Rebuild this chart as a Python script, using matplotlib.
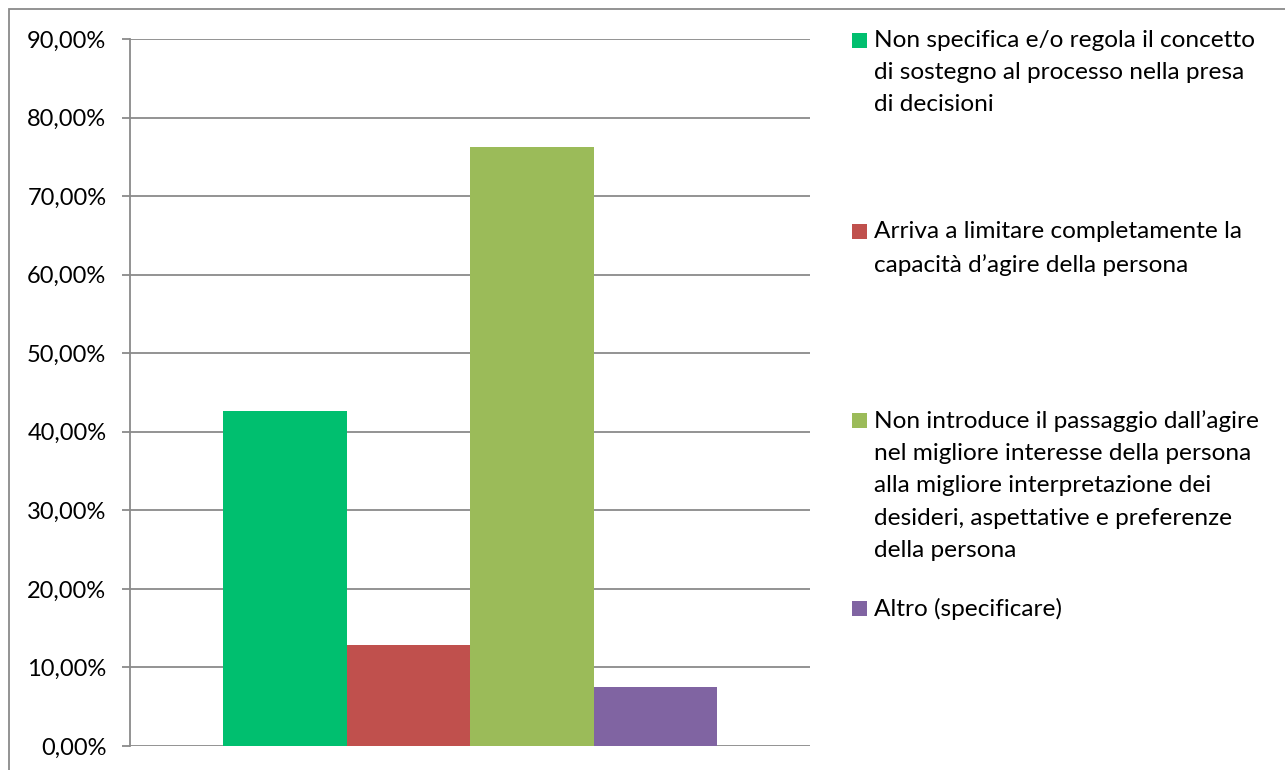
import matplotlib
matplotlib.use("Agg")
import matplotlib.pyplot as plt
from matplotlib.patches import Rectangle
from matplotlib.ticker import FuncFormatter

plt.rcParams['font.family'] = ['Lato', 'DejaVu Sans']

# data (percent)
categories = [
    "Non specifica e/o regola il concetto\ndi sostegno al processo nella presa\ndi decisioni",
    "Arriva a limitare completamente la\ncapacità d\u2019agire della persona",
    "Non introduce il passaggio dall\u2019agire\nnel migliore interesse della persona\nalla migliore interpretazione dei\ndesideri, aspettative e preferenze\ndella persona",
    "Altro (specificare)",
]
values = [42.65, 12.85, 76.25, 7.5]
colors = ["#00BF6F", "#C0504D", "#9BBB59", "#8064A2"]
yticks = [0, 10, 20, 30, 40, 50, 60, 70, 80, 90]

W, H = 1285, 770
fig = plt.figure(figsize=(W / 100, H / 100), dpi=100)
fig.patch.set_facecolor("white")

# outer chart border (cut off at right/bottom in the reference)
fig.patches.append(Rectangle((9 / W, -0.05), 1.1, (H - 9) / H + 0.05,
                             transform=fig.transFigure, fill=False,
                             edgecolor="#8a8a8a", linewidth=1.3))

ax = fig.add_axes([130 / W, (H - 746) / H, 680 / W, (746 - 39) / H])

bw = 494 / 680 / 4
n = len(values)
for i, (v, c) in enumerate(zip(values, colors)):
    ax.bar((i - (n - 1) / 2) * bw, v, width=bw, color=c, zorder=3)

ax.set_xlim(-0.5, 0.5)
ax.set_ylim(0, 90)
ax.set_yticks(yticks)
ax.yaxis.set_major_formatter(FuncFormatter(lambda v, p: f"{v:.2f}%".replace(".", ",")))
ax.set_xticks([])
ax.grid(axis="y", color="#8a8a8a", linewidth=1.3, zorder=0)
for s in ["top", "right", "bottom"]:
    ax.spines[s].set_visible(False)
ax.spines["left"].set_color("#8a8a8a")
ax.spines["left"].set_linewidth(1.3)
ax.tick_params(axis="y", length=6, width=1.3, color="#8a8a8a",
               labelsize=17, pad=11, labelcolor="black")

# legend laid out like the reference
legend_y = [40, 231, 420, 608]
for lab, c, y in zip(categories, colors, legend_y):
    fig.patches.append(Rectangle((852 / W, 1 - (y + 7.5) / H), 15 / W, 15 / H,
                                 transform=fig.transFigure, facecolor=c,
                                 edgecolor="none"))
    fig.text(874 / W, 1 - (y - 10) / H, lab, fontsize=17.6, va="top", ha="left",
             linespacing=1.66)

fig.savefig("out.png", dpi=100)
